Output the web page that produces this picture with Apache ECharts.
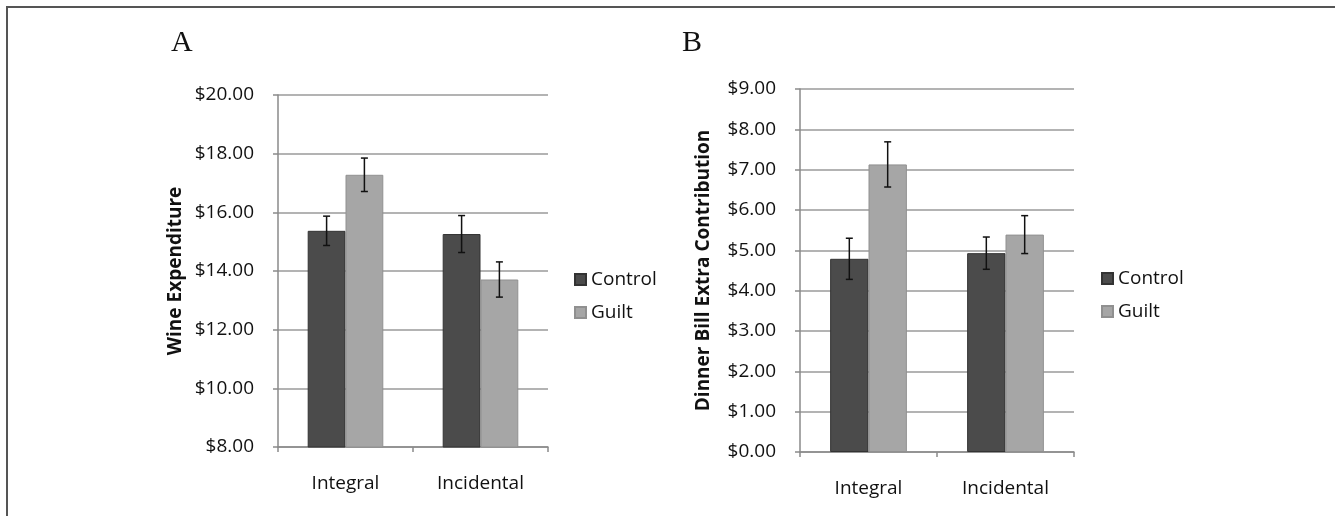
<!DOCTYPE html>
<html>
<head>
<meta charset="utf-8">
<script src="https://cdn.jsdelivr.net/npm/echarts@6/dist/echarts.min.js"></script>
<style>
html,body{margin:0;padding:0;background:#fff;}
#chart{width:1335px;height:516px;}
</style>
</head>
<body>
<div id="chart"></div>
<script>
// ---- data ----
const categories = ['Integral', 'Incidental'];
const seriesNames = ['Control', 'Guilt'];
// Panel A: Wine Expenditure ($)
const wineControl = [15.37, 15.26];
const wineGuilt = [17.28, 13.71];
const wineControlErr = [0.50, 0.63];
const wineGuiltErr = [0.57, 0.60];
// Panel B: Dinner Bill Extra Contribution ($)
const dinnerControl = [4.79, 4.93];
const dinnerGuilt = [7.13, 5.39];
const dinnerControlErr = [0.51, 0.40];
const dinnerGuiltErr = [0.56, 0.47];
// axis ranges
const wineAxis = {min: 8, max: 20, interval: 2};
const dinnerAxis = {min: 0, max: 9, interval: 1};
const panelLabels = ['A', 'B'];
const axisTitles = ['Wine Expenditure', 'Dinner Bill Extra Contribution'];

// ---- styles ----
const FONT = '"Open Sans", "Liberation Sans", sans-serif';
const colControl = '#4b4b4b';
const colGuilt = '#a6a6a6';
const CAT_GAP = 0.44;

const chart = echarts.init(document.getElementById('chart'), null, {renderer: 'canvas'});

function errData(vals, errs) {
  return vals.map((v, i) => [i, v - errs[i], v + errs[i]]);
}
function errSeries(gridIdx, vals, errs, side) {
  return {
    type: 'custom',
    xAxisIndex: gridIdx, yAxisIndex: gridIdx,
    z: 10,
    silent: true,
    data: errData(vals, errs),
    renderItem: function (params, api) {
      const i = api.value(0);
      const lo = api.coord([i, api.value(1)]);
      const hi = api.coord([i, api.value(2)]);
      const band = api.size([1, 0])[0];
      const barW = band * (1 - CAT_GAP) / 2;
      const x = lo[0] + side * barW / 2;
      const cap = 3.5;
      const st = {stroke: '#111', lineWidth: 1.5};
      return {
        type: 'group',
        children: [
          {type: 'line', shape: {x1: x, y1: lo[1], x2: x, y2: hi[1]}, style: st},
          {type: 'line', shape: {x1: x - cap, y1: hi[1], x2: x + cap, y2: hi[1]}, style: st},
          {type: 'line', shape: {x1: x - cap, y1: lo[1], x2: x + cap, y2: lo[1]}, style: st}
        ]
      };
    }
  };
}
function barSeries(gridIdx, name, vals, color, border) {
  return {
    type: 'bar', name: name,
    xAxisIndex: gridIdx, yAxisIndex: gridIdx,
    data: vals,
    barGap: '0%', barCategoryGap: (CAT_GAP * 100) + '%',
    itemStyle: {color: color, borderColor: border, borderWidth: 1},
    emphasis: {disabled: true}
  };
}
function xAxis(gridIdx, margin) {
  return {
    type: 'category', gridIndex: gridIdx, data: categories,
    axisLine: {show: true, lineStyle: {color: '#8a8a8a', width: 1.5}},
    axisTick: {show: true, length: 5, alignWithLabel: false, lineStyle: {color: '#8a8a8a', width: 1.5}},
    axisLabel: {margin: margin, fontFamily: FONT, fontSize: 19, color: '#111'}
  };
}
function yAxis(gridIdx, rng, title, gap) {
  return {
    type: 'value', gridIndex: gridIdx,
    min: rng.min, max: rng.max, interval: rng.interval,
    name: title, nameLocation: 'middle', nameGap: gap, nameRotate: 90,
    nameTextStyle: {fontFamily: FONT, fontSize: 19, fontWeight: 'bold', color: '#111'},
    axisLine: {show: true, lineStyle: {color: '#8a8a8a', width: 1.5}},
    axisTick: {show: true, length: 5, lineStyle: {color: '#8a8a8a', width: 1.5}},
    splitLine: {show: true, lineStyle: {color: '#9a9a9a', width: 1.5}},
    axisLabel: {margin: 24, fontFamily: FONT, fontSize: 19, color: '#111',
      formatter: v => '$' + v.toFixed(2)}
  };
}

const option = {
  backgroundColor: '#ffffff',
  animation: false,
  grid: [
    {left: 278, top: 95, width: 270, height: 352},
    {left: 800, top: 89, width: 274, height: 363}
  ],
  xAxis: [xAxis(0, 27), xAxis(1, 27)],
  yAxis: [yAxis(0, wineAxis, axisTitles[0], 93), yAxis(1, dinnerAxis, axisTitles[1], 87)],
  legend: [
    {data: seriesNames, orient: 'vertical', left: 569, top: 265, itemWidth: 11, itemHeight: 11,
     itemGap: 14, icon: 'rect', selectedMode: false,
     textStyle: {fontFamily: FONT, fontSize: 19, color: '#111', lineHeight: 19}},
    {data: seriesNames, orient: 'vertical', left: 1096, top: 264, itemWidth: 11, itemHeight: 11,
     itemGap: 14, icon: 'rect', selectedMode: false,
     textStyle: {fontFamily: FONT, fontSize: 19, color: '#111', lineHeight: 19}}
  ],
  graphic: [
    {type: 'polyline', silent: true,
     shape: {points: [[7, 516], [7, 7], [1335, 7]]},
     style: {stroke: '#555', lineWidth: 2, fill: null}},
    {type: 'text', left: 171, top: 28, silent: true,
     style: {text: panelLabels[0], font: '30px "Liberation Serif", "DejaVu Serif", serif', fill: '#111'}},
    {type: 'text', left: 682, top: 28, silent: true,
     style: {text: panelLabels[1], font: '30px "Liberation Serif", "DejaVu Serif", serif', fill: '#111'}}
  ],
  series: [
    barSeries(0, seriesNames[0], wineControl, colControl, '#333333'),
    barSeries(0, seriesNames[1], wineGuilt, colGuilt, '#909090'),
    errSeries(0, wineControl, wineControlErr, -1),
    errSeries(0, wineGuilt, wineGuiltErr, 1),
    barSeries(1, seriesNames[0], dinnerControl, colControl, '#333333'),
    barSeries(1, seriesNames[1], dinnerGuilt, colGuilt, '#909090'),
    errSeries(1, dinnerControl, dinnerControlErr, -1),
    errSeries(1, dinnerGuilt, dinnerGuiltErr, 1)
  ]
};
chart.setOption(option);
</script>
</body>
</html>
